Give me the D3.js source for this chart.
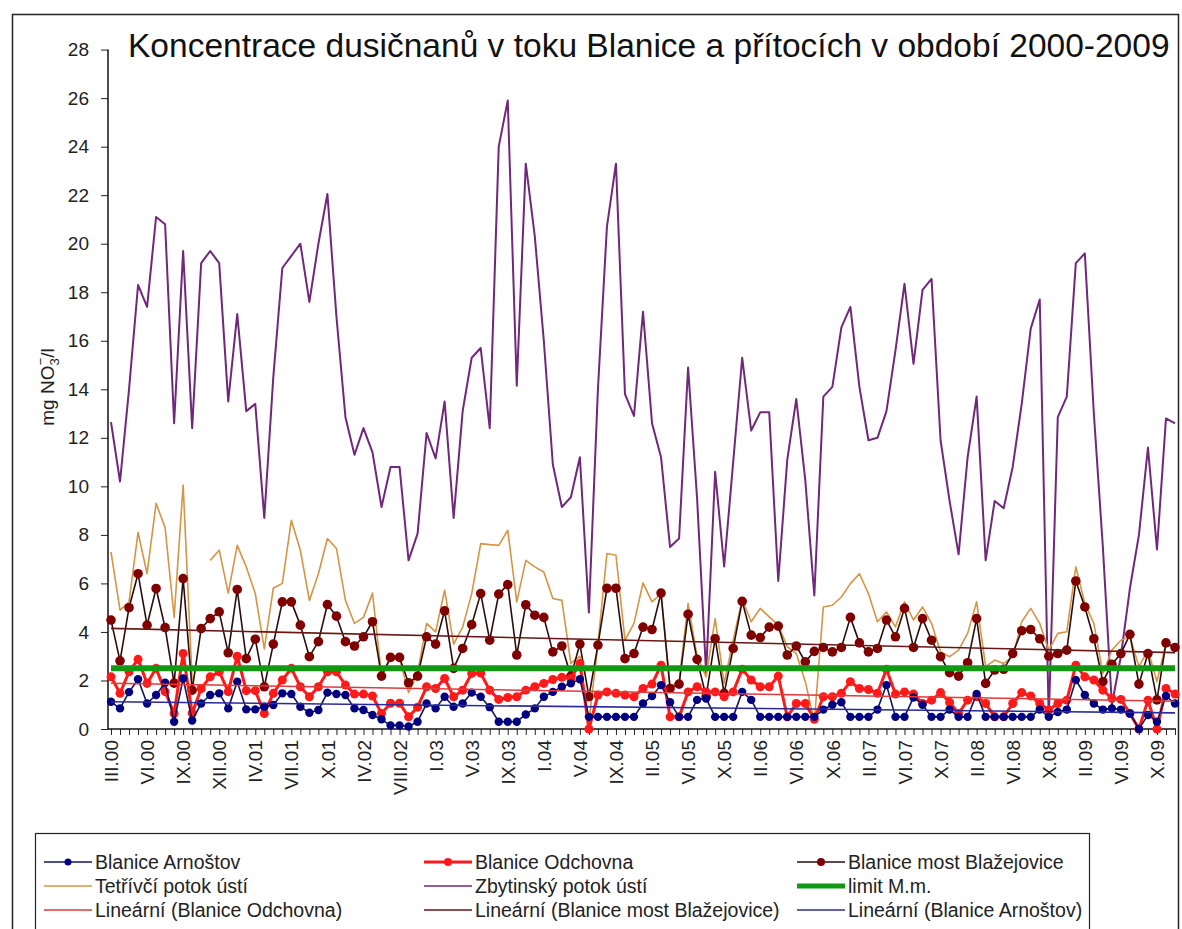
<!DOCTYPE html>
<html>
<head>
<meta charset="utf-8">
<script src="https://cdn.jsdelivr.net/npm/d3@7"></script>
<style>
body{margin:0;background:#fff;}
svg{display:block;font-family:"Liberation Sans",Arial,sans-serif;}
</style>
</head>
<body>
<svg id="chart" width="1182" height="929"></svg>
<script>
// sampling months (label shown on every 4th)
var categories = [
  'III.00','IV.00','IV.00','V.00','VI.00','VII.00','VII.00','VIII.00','IX.00','X.00','X.00','XI.00',
  'XII.00','I.01','II.01','III.01','IV.01','V.01','V.01','VI.01','VII.01','VIII.01','VIII.01','IX.01',
  'X.01','XI.01','I.02','III.02','IV.02','V.02','VI.02','VII.02','VIII.02','IX.02','X.02','XII.02',
  'I.03','II.03','III.03','IV.03','V.03','VI.03','VII.03','VIII.03','IX.03','X.03','XI.03','XII.03',
  'I.04','II.04','III.04','IV.04','V.04','VI.04','VII.04','VIII.04','IX.04','X.04','XI.04','XII.04',
  'II.05','III.05','IV.05','V.05','VI.05','VII.05','VIII.05','IX.05','X.05','XI.05','XII.05','I.06',
  'II.06','III.06','IV.06','V.06','VI.06','VII.06','VIII.06','IX.06','X.06','XI.06','XII.06','I.07',
  'II.07','III.07','IV.07','V.07','VI.07','VII.07','VIII.07','IX.07','X.07','XI.07','XII.07','I.08',
  'II.08','III.08','IV.08','V.08','VI.08','VII.08','VIII.08','IX.08','X.08','XI.08','XII.08','I.09',
  'II.09','III.09','IV.09','V.09','VI.09','VII.09','VIII.09','IX.09','X.09','XI.09','XII.09'
];

var arnostov = [
  1.12,0.85,1.52,2.05,1.05,1.4,1.91,0.3,2.08,0.35,1.05,1.4,
  1.47,0.85,1.95,0.81,0.81,0.92,0.99,1.47,1.44,0.92,0.67,0.78,
  1.5,1.44,1.4,0.85,0.78,0.58,0.4,0.15,0.15,0.1,0.3,1.05,
  0.85,1.33,0.92,1.05,1.5,1.33,0.9,0.3,0.3,0.3,0.6,0.85,
  1.33,1.53,1.74,1.88,2.05,0.5,0.5,0.5,0.5,0.5,0.5,1.05,
  1.36,1.81,1.1,0.5,0.5,1.2,1.26,0.5,0.5,0.5,1.53,1.2,
  0.5,0.5,0.5,0.5,0.5,0.5,0.5,0.8,1.0,1.1,0.5,0.5,
  0.5,0.8,1.81,0.5,0.5,1.3,1.0,0.5,0.5,0.8,0.5,0.5,
  1.44,0.5,0.5,0.5,0.5,0.5,0.5,0.8,0.5,0.7,0.8,2.02,
  1.4,1.05,0.8,0.85,0.8,0.64,0.0,0.58,0.3,1.36,1.05
];

var odchovna = [
  2.15,1.47,2.36,2.87,1.88,2.5,1.54,0.64,3.11,0.65,1.67,2.15,
  2.36,1.54,3.0,1.58,1.58,0.64,1.47,2.02,2.5,1.74,1.33,1.74,
  2.36,2.36,1.81,1.44,1.44,1.36,0.64,1.06,1.06,0.5,0.9,1.74,
  1.67,2.08,1.33,1.6,2.29,2.3,1.6,1.22,1.3,1.33,1.6,1.74,
  1.88,2.04,2.13,2.08,2.7,0.0,1.4,1.53,1.47,1.4,1.33,1.67,
  1.85,2.63,0.5,0.5,1.53,1.74,1.53,1.53,1.33,1.53,2.46,2.02,
  1.74,1.74,2.18,0.5,1.05,1.05,0.4,1.33,1.33,1.47,1.95,1.67,
  1.63,1.47,2.46,1.44,1.53,1.44,1.05,1.19,1.5,1.1,0.64,1.19,
  1.33,1.05,0.5,0.5,1.05,1.5,1.36,1.05,0.78,1.05,1.19,2.63,
  2.15,2.02,1.6,1.26,1.22,0.64,0.0,1.19,0.0,1.67,1.44
];

var blazejovice = [
  4.49,2.81,5.0,6.4,4.28,5.79,4.18,1.89,6.2,1.6,4.14,4.55,
  4.83,3.14,5.75,2.9,3.7,1.74,3.5,5.24,5.24,4.28,2.98,3.6,
  5.13,4.65,3.6,3.42,3.8,4.42,2.18,2.95,2.95,1.9,2.18,3.8,
  3.5,4.87,2.5,3.32,4.3,5.58,3.66,5.56,5.95,3.05,5.12,4.69,
  4.6,3.18,3.42,2.18,3.5,1.33,3.46,5.8,5.8,2.9,3.11,4.2,
  4.1,5.6,1.67,1.85,4.73,2.87,1.33,3.72,1.47,3.32,5.26,3.87,
  3.77,4.2,4.24,3.05,3.42,2.77,3.2,3.36,3.18,3.36,4.6,3.55,
  3.18,3.32,4.49,3.8,4.97,3.36,4.55,3.66,2.98,2.32,2.18,2.73,
  4.55,1.88,2.43,2.46,3.11,4.05,4.1,3.72,3.0,3.11,3.25,6.1,
  5.03,3.72,1.95,2.67,3.11,3.9,1.85,3.11,1.2,3.55,3.36
];

var tetrivci = [
  7.3,4.9,5.24,8.1,6.4,9.3,8.3,4.6,10.05,2.0,null,6.95,
  7.37,5.6,7.57,6.68,5.58,3.3,5.8,6.0,8.6,7.37,5.3,6.4,
  7.85,7.44,5.3,4.35,4.6,5.6,2.2,2.9,2.9,1.5,2.3,4.35,
  4.0,5.72,3.5,4.2,5.58,7.64,7.6,7.57,8.19,5.24,6.95,6.68,
  6.47,5.38,5.3,2.7,3.0,0.3,3.5,7.23,7.16,3.66,4.35,6.02,
  5.24,5.58,1.74,1.95,5.17,2.98,2.15,4.55,1.88,3.66,5.34,4.42,
  4.97,4.62,4.28,3.39,3.11,1.95,0.3,5.03,5.1,5.44,5.99,6.4,
  5.58,4.42,4.83,4.21,5.24,4.49,5.03,4.35,3.18,2.98,3.25,3.94,
  5.24,2.57,2.84,2.7,2.98,4.42,4.97,4.35,3.25,3.94,4.01,6.68,
  5.17,4.35,2.29,3.25,3.66,3.8,2.57,3.25,1.95,3.53,3.32
];

var zbytinsky = [
  12.65,10.2,14.0,18.3,17.4,21.1,20.8,12.6,19.7,12.4,19.2,19.7,
  19.2,13.5,17.1,13.1,13.4,8.7,14.5,19.0,19.5,20.0,17.6,20.0,
  22.05,17.0,12.85,11.3,12.4,11.4,9.15,10.8,10.8,6.95,8.05,12.2,
  11.15,13.5,8.7,13.1,15.3,15.7,12.4,24.0,25.9,14.15,23.3,20.3,
  16.0,10.9,9.15,9.55,11.2,4.8,14.0,20.7,23.3,13.8,12.9,17.2,
  12.6,11.2,7.5,7.85,14.9,9.5,2.3,10.6,6.7,11.0,15.3,12.3,
  13.05,13.05,6.1,11.1,13.6,10.25,5.5,13.7,14.1,16.55,17.4,14.1,
  11.9,12.0,13.1,15.6,18.35,15.05,18.1,18.55,11.9,9.4,7.2,11.2,
  13.7,6.95,9.4,9.1,10.8,13.4,16.5,17.7,0.4,12.85,13.7,19.2,
  19.6,13.0,7.5,1.0,3.0,5.8,8.0,11.6,7.4,12.8,12.6
];

var limitMm = 2.5;
var yTicks = [0, 2, 4, 6, 8, 10, 12, 14, 16, 18, 20, 22, 24, 26, 28];
var labelEvery = 4;

var titleText = 'Koncentrace dusičnanů v toku Blanice a přítocích v období 2000-2009';

// colours
var cNavy = '#000080', cRed = '#ff1a1a', cMaroon = '#800000',
    cOrange = '#d49545', cPurple = '#70287a', cGreen = '#119a11';

var svg = d3.select('#chart');

// outer chart border
svg.append('rect')
    .attr('x', 12.5).attr('y', 14.5)
    .attr('width', 1166).attr('height', 940)
    .attr('fill', '#fff').attr('stroke', '#222').attr('stroke-width', 1.5);

var x = d3.scaleLinear().domain([0, categories.length - 1]).range([111, 1175]);
var y = d3.scaleLinear().domain([0, 28]).range([729, 49.6]);

// title
var title = svg.append('text')
    .attr('x', 128).attr('y', 57)
    .attr('font-size', 30).attr('fill', '#111')
    .text(titleText);
var tw = title.node().getComputedTextLength();
title.attr('font-size', 30 * 1042 / tw);

// y axis
var yAxis = svg.append('g')
    .attr('transform', 'translate(108,0)')
    .call(d3.axisLeft(y).tickValues(yTicks).tickSize(7).tickSizeOuter(0).tickPadding(12));
yAxis.select('.domain').remove();
yAxis.selectAll('text').attr('font-size', 19).attr('fill', '#222').attr('font-family', '"Liberation Sans",Arial,sans-serif');
yAxis.selectAll('line').attr('stroke', '#222');

// x axis
var xAxis = svg.append('g')
    .attr('transform', 'translate(0,729)')
    .call(d3.axisBottom(x)
        .tickValues(d3.range(categories.length))
        .tickSize(6).tickSizeOuter(0)
        .tickFormat(function(d){ return d % labelEvery === 0 ? categories[d] : ''; }));
xAxis.select('.domain').remove();
xAxis.selectAll('line').attr('stroke', '#222');
xAxis.selectAll('text')
    .attr('transform', 'rotate(-90)')
    .attr('text-anchor', 'end')
    .attr('x', -11).attr('y', 0).attr('dy', '0.35em')
    .attr('font-size', 19).attr('fill', '#222')
    .attr('font-family', '"Liberation Sans",Arial,sans-serif');

// axis lines
svg.append('line').attr('x1', 108).attr('x2', 108).attr('y1', 49.6).attr('y2', 729)
    .attr('stroke', '#111').attr('stroke-width', 1.5);
svg.append('line').attr('x1', 108).attr('x2', 1176).attr('y1', 729).attr('y2', 729)
    .attr('stroke', '#111').attr('stroke-width', 1.5);

// y axis title  mg NO3- /l
var yTitle = svg.append('text')
    .attr('transform', 'translate(54,387) rotate(-90)')
    .attr('text-anchor', 'middle')
    .attr('font-size', 19).attr('fill', '#222');
yTitle.append('tspan').text('mg NO');
yTitle.append('tspan').attr('font-size', 13).attr('dy', 5).text('3');
yTitle.append('tspan').attr('font-size', 13).attr('dx', -7).attr('dy', -14).text('−');
yTitle.append('tspan').attr('dy', 9).text('/l');

var line = d3.line()
    .defined(function(d){ return d != null; })
    .x(function(d, i){ return x(i); })
    .y(function(d){ return y(d); });

function drawLine(values, color, width){
    svg.append('path')
        .datum(values)
        .attr('d', line)
        .attr('fill', 'none')
        .attr('stroke', color)
        .attr('stroke-width', width)
        .attr('stroke-linejoin', 'round');
}

function drawDots(values, color, r){
    svg.append('g').selectAll('circle')
        .data(values.map(function(v, i){ return {v: v, i: i}; }).filter(function(d){ return d.v != null; }))
        .enter().append('circle')
            .attr('cx', function(d){ return x(d.i); })
            .attr('cy', function(d){ return y(d.v); })
            .attr('r', r)
            .attr('fill', color);
}

// linear trend like the spreadsheet one
function trend(values){
    var pts = [];
    values.forEach(function(v, i){ if(v != null){ pts.push([i, v]); } });
    var mx = d3.mean(pts, function(p){ return p[0]; });
    var my = d3.mean(pts, function(p){ return p[1]; });
    var sxy = d3.sum(pts, function(p){ return (p[0] - mx) * (p[1] - my); });
    var sxx = d3.sum(pts, function(p){ return (p[0] - mx) * (p[0] - mx); });
    var b = sxy / sxx, a = my - b * mx;
    return [0, values.length - 1].map(function(i){ return [i, a + b * i]; });
}

function drawTrend(values, color){
    var t = trend(values);
    svg.append('line')
        .attr('x1', x(t[0][0])).attr('y1', y(t[0][1]))
        .attr('x2', x(t[1][0])).attr('y2', y(t[1][1]))
        .attr('stroke', color).attr('stroke-width', 1.6);
}

drawLine(zbytinsky, cPurple, 2);
drawLine(tetrivci, cOrange, 1.6);
drawLine(blazejovice, '#2a0c0c', 1.6);
drawDots(blazejovice, cMaroon, 4.8);
drawLine(odchovna, cRed, 3);
drawDots(odchovna, cRed, 4.5);
drawLine(arnostov, '#14145a', 1.6);
drawDots(arnostov, cNavy, 4.2);

// limit
svg.append('line')
    .attr('x1', x(0)).attr('x2', x(categories.length - 1))
    .attr('y1', y(limitMm)).attr('y2', y(limitMm))
    .attr('stroke', cGreen).attr('stroke-width', 6);

drawTrend(odchovna, '#e03a3a');
drawTrend(blazejovice, '#6a1616');
drawTrend(arnostov, '#2a2a9a');

// legend
var legend = svg.append('g');
legend.append('rect')
    .attr('x', 35.5).attr('y', 833.5).attr('width', 1054).attr('height', 120)
    .attr('fill', '#fff').attr('stroke', '#222').attr('stroke-width', 1.2);

var legendItems = [
    {name: 'Blanice Arnoštov', color: '#14145a', w: 1.6, dot: cNavy, r: 3.5, col: 0, row: 0},
    {name: 'Blanice Odchovna', color: cRed, w: 3.2, dot: cRed, r: 4, col: 1, row: 0},
    {name: 'Blanice most Blažejovice', color: '#2a0c0c', w: 1.6, dot: cMaroon, r: 4, col: 2, row: 0},
    {name: 'Tetřívčí potok ústí', color: cOrange, w: 1.6, col: 0, row: 1},
    {name: 'Zbytinský potok ústí', color: cPurple, w: 1.6, col: 1, row: 1},
    {name: 'limit M.m.', color: cGreen, w: 5, col: 2, row: 1},
    {name: 'Lineární (Blanice Odchovna)', color: '#e03a3a', w: 1.6, col: 0, row: 2},
    {name: 'Lineární (Blanice most Blažejovice)', color: '#6a1616', w: 1.6, col: 1, row: 2},
    {name: 'Lineární (Blanice Arnoštov)', color: '#2a2a9a', w: 1.6, col: 2, row: 2}
];
var colX = [44, 424, 797], rowY = [862, 886, 910];

legendItems.forEach(function(it){
    var lx = colX[it.col], ly = rowY[it.row];
    legend.append('line')
        .attr('x1', lx).attr('x2', lx + 48).attr('y1', ly).attr('y2', ly)
        .attr('stroke', it.color).attr('stroke-width', it.w);
    if(it.dot){
        legend.append('circle').attr('cx', lx + 24).attr('cy', ly).attr('r', it.r).attr('fill', it.dot);
    }
    legend.append('text')
        .attr('x', lx + 51).attr('y', ly).attr('dy', '0.35em')
        .attr('font-size', 19.5).attr('fill', '#222')
        .text(it.name);
});
</script>
</body>
</html>
